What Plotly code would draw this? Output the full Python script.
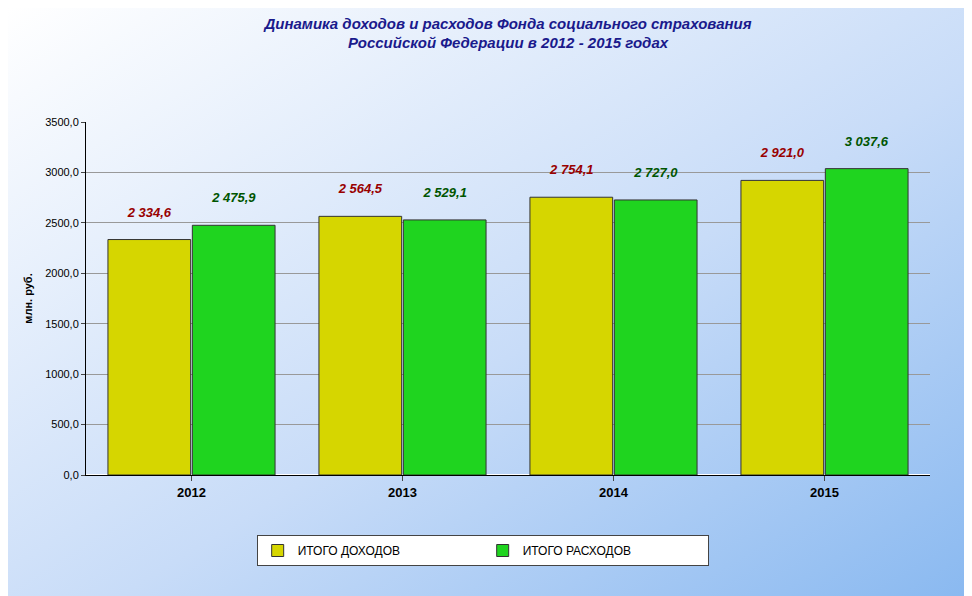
import plotly.graph_objects as go
import base64

years = ["2012", "2013", "2014", "2015"]
income = [2334.6, 2564.5, 2754.1, 2921.0]
expenses = [2475.9, 2529.1, 2727.0, 3037.6]
income_labels = ["2 334,6", "2 564,5", "2 754,1", "2 921,0"]
expense_labels = ["2 475,9", "2 529,1", "2 727,0", "3 037,6"]
yticks = [0, 500, 1000, 1500, 2000, 2500, 3000, 3500]
ytick_text = ["0,0", "500,0", "1000,0", "1500,0", "2000,0", "2500,0", "3000,0", "3500,0"]

W, H = 972, 596
L, R, T, B = 78, 50, 114, 129
pw, ph = W - L - R, H - T - B

svg = f'''<svg xmlns="http://www.w3.org/2000/svg" width="{W}" height="{H}">
<defs><linearGradient id="g" x1="0" y1="0" x2="1" y2="1">
<stop offset="0" stop-color="#ffffff"/><stop offset="0.55" stop-color="#c8dcf8"/><stop offset="1" stop-color="#88b8f0"/>
</linearGradient></defs><rect width="{W}" height="{H}" fill="url(#g)"/></svg>'''
uri = "data:image/svg+xml;base64," + base64.b64encode(svg.encode()).decode()

fig = go.Figure()
fig.add_bar(x=years, y=income, name="ИТОГО ДОХОДОВ", text=income_labels, textposition="outside",
            texttemplate="%{text}<br> ",
            marker=dict(color="#d6d600", line=dict(color="#333", width=1)),
            textfont=dict(color="#990000", size=13, family="Arial", style="italic", weight="bold"),
            cliponaxis=False)
fig.add_bar(x=years, y=expenses, name="ИТОГО РАСХОДОВ", text=expense_labels, textposition="outside",
            texttemplate="%{text}<br> ",
            marker=dict(color="#1fd41f", line=dict(color="#333", width=1)),
            textfont=dict(color="#005500", size=13, family="Arial", style="italic", weight="bold"),
            cliponaxis=False)

fig.update_layout(
    width=W, height=H, margin=dict(l=L, r=R, t=T, b=B),
    paper_bgcolor="#dde9fa", plot_bgcolor="rgba(0,0,0,0)",
    barmode="group", bargap=0.2, bargroupgap=0.02,
    title=dict(text="Динамика доходов и расходов Фонда социального страхования<br>Российской Федерации в 2012 - 2015 годах",
               x=0.5, xref="paper", y=0.965, yanchor="top",
               font=dict(family="Arial", size=15, color="#1a1a8c", style="italic", weight="bold")),
    images=[dict(source=uri, xref="paper", yref="paper", x=-L/pw, y=1 + T/ph,
                 sizex=W/pw, sizey=H/ph, sizing="stretch", layer="below", xanchor="left", yanchor="top")],
    legend=dict(orientation="h", x=0.47, xanchor="center", y=-0.17, yanchor="top",
                bgcolor="white", bordercolor="#444", borderwidth=1,
                font=dict(family="Arial", size=12, color="black"), entrywidth=180),
    showlegend=True,
)
fig.update_yaxes(range=[0, 3500], tickvals=yticks, ticktext=ytick_text, showgrid=True, gridcolor="#999",
                 showline=True, linecolor="black", ticks="outside", ticklen=4,
                 tickfont=dict(family="Arial", size=11, color="black"),
                 title=dict(text="млн. руб.", font=dict(family="Arial", size=11, color="black", weight="bold"), standoff=10))
fig.update_xaxes(showline=True, linecolor="black", ticks="outside", ticklen=5,
                 tickfont=dict(family="Arial", size=13, color="black", weight="bold"))
fig.write_html("out.html")
